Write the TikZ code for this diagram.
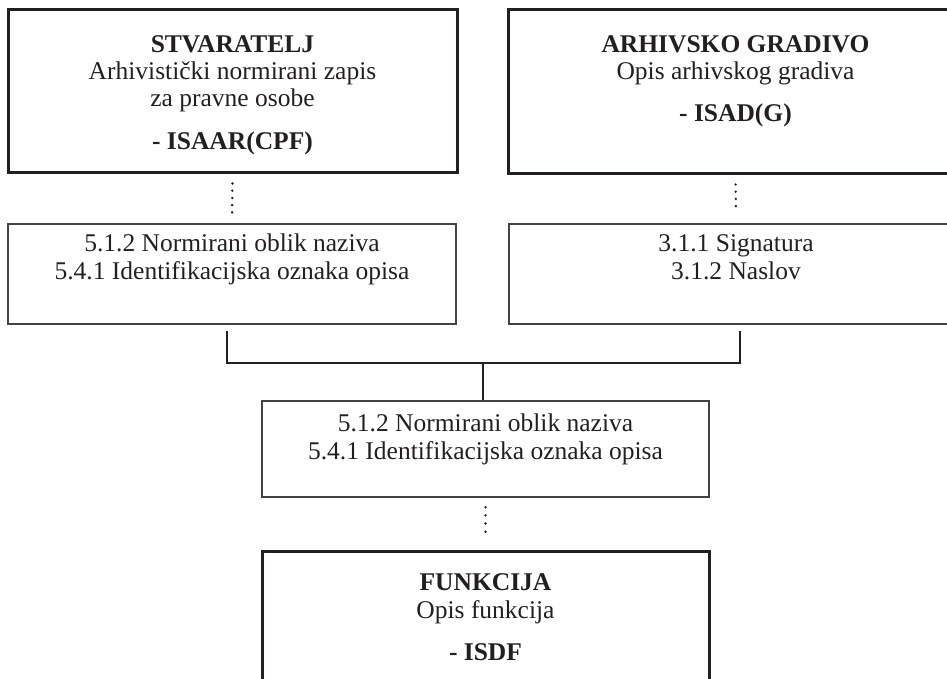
\documentclass[tikz,border=0pt]{standalone}
\usepackage{fontspec}
\setmainfont{Liberation Serif}
\definecolor{ink}{HTML}{231F20}
\begin{document}
\begin{tikzpicture}[x=1pt,y=-1pt,
  thickbox/.style={draw=ink, line width=3pt, inner sep=0pt},
  thinbox/.style={draw=ink!85, line width=1.3pt, inner sep=0pt},
  txt/.style={anchor=base, inner sep=0pt, text=ink, font=\fontsize{25.5}{28}\selectfont},
  ttl/.style={txt, font=\fontsize{25.5}{28}\selectfont\bfseries},
  conn/.style={draw=ink, line width=2.8pt},
  dots/.style={draw=ink, line width=2.7pt, line cap=round, dash pattern=on 0pt off 7.2pt, shorten <=9pt, shorten >=11pt}]
\useasboundingbox (0,0) rectangle (947,679);
\clip (0,0) rectangle (947,679);
% boxes
\node[thickbox, minimum width=449pt, minimum height=163pt] (stv) at (232.5,91.5) {};
\node[thickbox, minimum width=455pt, minimum height=164pt] (arh) at (735.5,92) {};
\node[thinbox, minimum width=448pt, minimum height=100pt] (n1) at (232,274) {};
\node[thinbox, minimum width=454pt, minimum height=100pt] (n2) at (736,274) {};
\node[thinbox, minimum width=447pt, minimum height=96pt] (n3) at (485.5,449) {};
\node[thickbox, minimum width=447pt, minimum height=170pt] (fun) at (485.5,636) {};
% texts
\node[ttl] (stv1) at (232.5,53) {STVARATELJ};
\node[txt] (stv2) at (232.5,80) {Arhivistički normirani zapis};
\node[txt] (stv3) at (232.5,107) {za pravne osobe};
\node[ttl] (stv4) at (232.5,150) {- ISAAR(CPF)};
\node[ttl] (arh1) at (735.5,53) {ARHIVSKO GRADIVO};
\node[txt] (arh2) at (735.5,80) {Opis arhivskog gradiva};
\node[ttl] (arh3) at (735.5,122) {- ISAD(G)};
\node[txt] (n1a) at (232,251) {5.1.2 Normirani oblik naziva};
\node[txt] (n1b) at (232,279) {5.4.1 Identifikacijska oznaka opisa};
\node[txt] (n2a) at (736,251) {3.1.1 Signatura};
\node[txt] (n2b) at (736,279) {3.1.2 Naslov};
\node[txt] (n3a) at (485.5,431) {5.1.2 Normirani oblik naziva};
\node[txt] (n3b) at (485.5,459) {5.4.1 Identifikacijska oznaka opisa};
\node[ttl] (fun1) at (485.5,590) {FUNKCIJA};
\node[txt] (fun2) at (485.5,618) {Opis funkcija};
\node[ttl] (fun3) at (485.5,660) {- ISDF};
% connectors
\draw[dots] (stv.south) -- (n1.north);
\draw[dots] (arh.south) -- (n2.north);
\draw[dots, dash pattern=on 0pt off 8.2pt, shorten <=9.5pt, shorten >=11pt] (n3.south) -- (fun.north);
\coordinate (j) at (483,363);
\draw[conn] ([xshift=-5pt,yshift=-6pt]n1.south) |- (j) -| ([xshift=4pt,yshift=-6pt]n2.south);
\draw[conn] (j) -- (j |- n3.north);
\end{tikzpicture}
\end{document}
